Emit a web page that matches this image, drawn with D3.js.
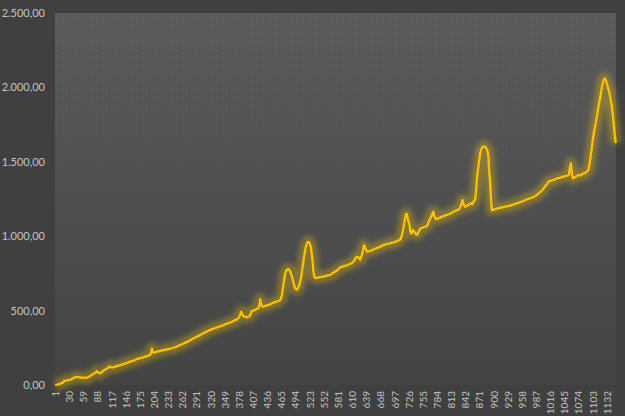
<!DOCTYPE html>
<html lang="en">
<head>
<meta charset="UTF-8">
<title>Line chart</title>
<script src="https://d3js.org/d3.v7.min.js"></script>
<style>
    html, body { margin: 0; padding: 0; background: #404040; }
    svg { display: block; }
    .tick text { font-family: Lato, "Open Sans", sans-serif; fill: #c4c4c4; }
</style>
</head>
<body>
<svg id="chart" width="625" height="416"></svg>
<script>
    // categories on the x axis (day numbers) and the labels shown on it
    const days = d3.range(1, 1151);
    const xLabels = [1, 30, 59, 88, 117, 146, 175, 204, 233, 262, 291, 320, 349, 378, 407, 436,
        465, 494, 523, 552, 581, 610, 639, 668, 697, 726, 755, 784, 813, 842, 871, 900,
        929, 958, 987, 1016, 1045, 1074, 1103, 1132];
    const yTicks = [0, 500, 1000, 1500, 2000, 2500];

    // series: day -> value
    const day = [1, 5, 10, 14, 17, 19, 23, 27, 31, 35, 38, 42, 46, 50, 55, 60, 65, 70, 74, 78,
        82, 86, 89, 93, 97, 101, 105, 109, 113, 116, 120, 125, 130, 135, 140, 145, 150, 155, 160, 165,
        170, 175, 180, 185, 189, 193, 196, 198, 199, 200, 202, 206, 210, 215, 220, 225, 230, 235, 240, 245,
        250, 255, 260, 265, 270, 275, 280, 285, 290, 295, 300, 305, 310, 315, 320, 325, 330, 335, 340, 345,
        350, 355, 360, 365, 370, 374, 377, 380, 382, 384, 387, 391, 395, 399, 402, 404, 407, 411, 415, 418,
        420, 421, 423, 425, 430, 435, 440, 445, 450, 455, 460, 463, 466, 469, 472, 475, 478, 481, 484, 487,
        490, 493, 496, 499, 502, 505, 508, 511, 514, 517, 520, 522, 525, 528, 530, 532, 535, 540, 545, 550,
        555, 560, 565, 570, 575, 580, 585, 590, 595, 600, 605, 610, 614, 617, 620, 623, 626, 629, 632, 634,
        636, 640, 645, 650, 655, 660, 665, 670, 675, 680, 685, 690, 695, 700, 705, 708, 711, 714, 717, 720,
        722, 724, 727, 729, 731, 734, 737, 740, 743, 746, 749, 752, 756, 760, 764, 767, 770, 773, 776, 778,
        781, 785, 790, 795, 800, 805, 810, 815, 820, 825, 830, 833, 836, 838, 841, 845, 849, 853, 856, 859,
        862, 864, 866, 869, 872, 875, 878, 881, 884, 887, 889, 890, 892, 894, 896, 900, 905, 910, 915, 920,
        925, 930, 935, 940, 945, 950, 955, 960, 965, 970, 975, 980, 985, 990, 995, 1000, 1005, 1008, 1012, 1016,
        1020, 1025, 1030, 1035, 1040, 1045, 1050, 1054, 1056, 1058, 1060, 1062, 1066, 1070, 1074, 1078, 1082, 1086, 1090, 1094,
        1097, 1100, 1103, 1106, 1109, 1112, 1115, 1118, 1121, 1124, 1126, 1128, 1130, 1133, 1136, 1139, 1142, 1144, 1146, 1148,
        1150];
    const price = [0, 3, 8, 12, 15, 28, 30, 33, 34, 40, 47, 52, 55, 53, 50, 49, 48, 55, 63, 72,
        80, 92, 84, 78, 88, 100, 106, 115, 125, 118, 118, 125, 130, 134, 140, 146, 150, 157, 162, 168,
        176, 180, 184, 190, 194, 199, 204, 222, 245, 232, 218, 220, 224, 228, 232, 236, 240, 243, 247, 252,
        258, 266, 272, 280, 288, 296, 305, 314, 322, 330, 340, 348, 356, 364, 372, 378, 384, 390, 396, 400,
        408, 414, 420, 428, 436, 442, 452, 470, 492, 478, 462, 458, 455, 462, 480, 498, 500, 505, 512, 520,
        548, 576, 545, 526, 530, 535, 540, 548, 555, 560, 566, 575, 610, 680, 745, 770, 780, 772, 752, 720,
        680, 648, 640, 652, 680, 720, 790, 860, 920, 952, 963, 955, 928, 850, 770, 728, 718, 722, 726, 728,
        732, 737, 740, 752, 762, 774, 790, 795, 800, 806, 813, 822, 835, 855, 862, 858, 842, 868, 905, 940,
        925, 896, 900, 905, 914, 920, 926, 935, 942, 946, 950, 955, 958, 965, 972, 976, 1000, 1040, 1100, 1150,
        1150, 1110, 1080, 1030, 1018, 1042, 1030, 1015, 1010, 1030, 1050, 1055, 1060, 1064, 1072, 1100, 1120, 1140, 1165, 1135,
        1115, 1118, 1125, 1132, 1138, 1144, 1150, 1160, 1168, 1175, 1185, 1210, 1243, 1215, 1198, 1204, 1212, 1222, 1215, 1235,
        1250, 1320, 1410, 1480, 1560, 1590, 1600, 1603, 1595, 1575, 1540, 1460, 1380, 1260, 1176, 1178, 1184, 1188, 1192, 1196,
        1200, 1203, 1207, 1212, 1218, 1224, 1230, 1236, 1243, 1250, 1256, 1262, 1270, 1282, 1296, 1312, 1335, 1345, 1366, 1372,
        1376, 1382, 1388, 1392, 1398, 1402, 1406, 1412, 1460, 1490, 1420, 1390, 1395, 1405, 1412, 1408, 1420, 1425, 1432, 1445,
        1500, 1570, 1650, 1710, 1760, 1820, 1880, 1930, 1990, 2040, 2055, 2058, 2045, 2010, 1975, 1930, 1870, 1810, 1750, 1680,
        1625];

    const svg = d3.select("#chart");
    const margin = { top: 13, right: 9, bottom: 31, left: 55 };
    const width = +svg.attr("width") - margin.left - margin.right;
    const height = +svg.attr("height") - margin.top - margin.bottom;

    const defs = svg.append("defs");

    const bg = defs.append("linearGradient").attr("id", "plotBg")
        .attr("x1", 0).attr("y1", 0).attr("x2", 0).attr("y2", 1);
    bg.append("stop").attr("offset", "0%").attr("stop-color", "#5a5a5a");
    bg.append("stop").attr("offset", "100%").attr("stop-color", "#444444");

    // fine dotted texture in the upper part of the plot
    const pat = defs.append("pattern").attr("id", "dots")
        .attr("width", 5).attr("height", 4).attr("patternUnits", "userSpaceOnUse");
    pat.append("rect").attr("x", 1).attr("y", 1).attr("width", 1).attr("height", 1).attr("fill", "#8a8a8a");
    pat.append("rect").attr("x", 3).attr("y", 3).attr("width", 1).attr("height", 1).attr("fill", "#7a7a7a");
    const fade = defs.append("linearGradient").attr("id", "fade")
        .attr("x1", 0).attr("y1", 0).attr("x2", 0).attr("y2", 1);
    fade.append("stop").attr("offset", "0%").attr("stop-color", "#fff").attr("stop-opacity", 0.3);
    fade.append("stop").attr("offset", "40%").attr("stop-color", "#fff").attr("stop-opacity", 0.06);
    fade.append("stop").attr("offset", "100%").attr("stop-color", "#fff").attr("stop-opacity", 0);
    defs.append("mask").attr("id", "fadeMask")
        .append("rect").attr("width", width).attr("height", height).attr("fill", "url(#fade)");

    const glow = defs.append("filter").attr("id", "glow")
        .attr("x", "-10%").attr("y", "-10%").attr("width", "120%").attr("height", "120%");
    glow.append("feGaussianBlur").attr("stdDeviation", 2.5);

    const g = svg.append("g").attr("transform", `translate(${margin.left},${margin.top})`);

    g.append("rect").attr("width", width).attr("height", height).attr("fill", "url(#plotBg)");
    g.append("rect").attr("width", width).attr("height", height)
        .attr("fill", "url(#dots)").attr("mask", "url(#fadeMask)");

    const x = d3.scaleBand().domain(days).range([0, width]);
    const y = d3.scaleLinear().domain([0, 2500]).range([height, 0]);

    const yAxis = g.append("g")
        .call(d3.axisLeft(y).tickValues(yTicks).tickSize(0).tickPadding(10)
            .tickFormat(d => d3.format(",.2f")(d).replace(/,/g, "#").replace(".", ",").replace(/#/g, ".")));
    yAxis.select(".domain").remove();
    yAxis.selectAll("text").style("font-size", "11px");

    const xAxis = g.append("g").attr("transform", `translate(0,${height})`)
        .call(d3.axisBottom(x).tickValues(xLabels).tickSize(0).tickPadding(0));
    xAxis.select(".domain").remove();
    xAxis.selectAll("text")
        .style("font-size", "10px")
        .attr("text-anchor", "end")
        .attr("transform", "rotate(-90)")
        .attr("x", -6).attr("y", 0).attr("dy", "0.35em");

    const series = day.map((d, i) => ({ day: d, value: price[i] }));
    const line = d3.line()
        .x(d => x(d.day) + x.bandwidth() / 2)
        .y(d => y(d.value));

    g.append("path").datum(series)
        .attr("fill", "none").attr("stroke", "#ffd000").attr("stroke-width", 12)
        .attr("stroke-opacity", 0.3).attr("stroke-linejoin", "round")
        .attr("filter", "url(#glow)").attr("d", line);
    g.append("path").datum(series)
        .attr("fill", "none").attr("stroke", "#ffc000").attr("stroke-width", 2.3)
        .attr("stroke-linejoin", "round").attr("d", line);
</script>
</body>
</html>
